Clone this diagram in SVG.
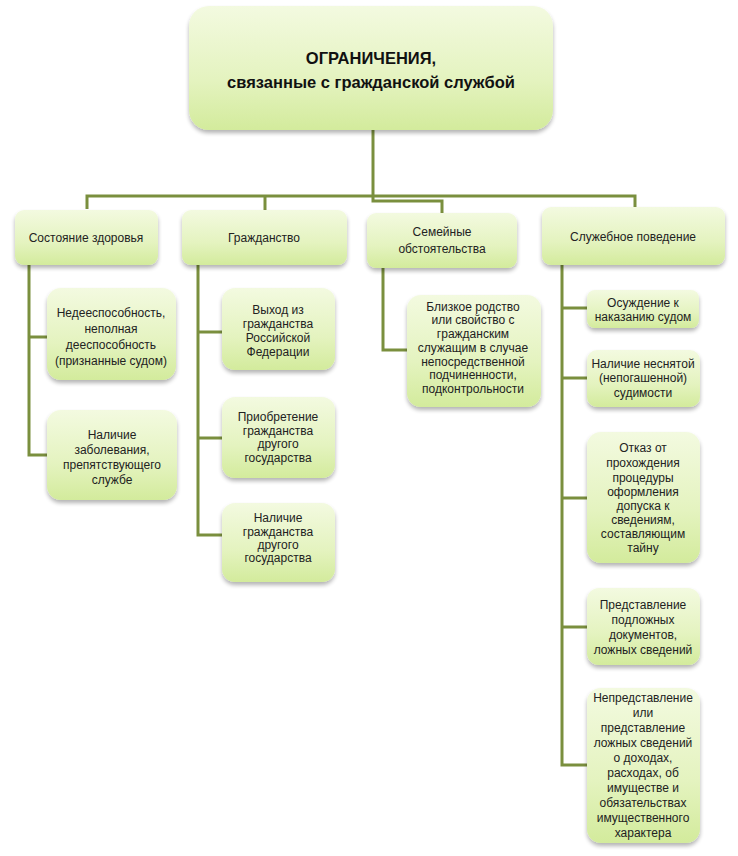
<svg xmlns="http://www.w3.org/2000/svg" width="738" height="856" viewBox="0 0 738 856">
<defs>
<linearGradient id="g" x1="0" y1="0" x2="0" y2="1">
<stop offset="0" stop-color="#f3fae0"/>
<stop offset="0.6" stop-color="#e4f3bf"/>
<stop offset="1" stop-color="#d3eb9c"/>
</linearGradient>
<filter id="sh" x="-10%" y="-10%" width="120%" height="130%">
<feGaussianBlur in="SourceAlpha" stdDeviation="2"/>
<feOffset dx="0" dy="3" result="b"/>
<feComponentTransfer><feFuncA type="linear" slope="0.3"/></feComponentTransfer>
<feMerge><feMergeNode/><feMergeNode in="SourceGraphic"/></feMerge>
</filter>
</defs>
<style>
.box{fill:url(#g);filter:url(#sh);}
.t{font-family:"Liberation Sans",Arial,sans-serif;font-size:12px;fill:#222;text-anchor:middle;}
.h{font-family:"Liberation Sans",Arial,sans-serif;font-size:16.5px;font-weight:bold;fill:#111;text-anchor:middle;}
.c{fill:none;stroke:#7a8f3e;stroke-width:3;}
</style>
<rect width="738" height="856" fill="#fff"/>
<g id="connectors">
<path class="c" d="M373 130 V196"/>
<path class="c" d="M87 209 V196 H635 V207"/>
<path class="c" d="M265 196 V210"/>
<path class="c" d="M373 196 V201 H442 V213"/>
<path class="c" d="M29 265 V455 H48 M29 337 H48"/>
<path class="c" d="M198 265 V535 H223 M198 332 H223 M198 438 H223"/>
<path class="c" d="M383 268 V350 H407"/>
<path class="c" d="M562 265 V765 H587 M562 308 H587 M562 378 H587 M562 498 H587 M562 627 H587"/>
</g>
<g id="root">
<rect class="box" x="189" y="6" width="364" height="124" rx="20"/>
<text class="h" x="371" y="64">ОГРАНИЧЕНИЯ,</text>
<text class="h" x="371" y="88">связанные с гражданской службой</text>
</g>
<g id="health">
<rect class="box" x="15" y="210" width="143" height="55" rx="9"/>
<text class="t" x="86" y="242">Состояние здоровья</text>
</g>
<g id="citizenship">
<rect class="box" x="182" y="210" width="165" height="55" rx="9"/>
<text class="t" x="264" y="242">Гражданство</text>
</g>
<g id="family">
<rect class="box" x="367" y="213" width="150" height="55" rx="9"/>
<text class="t" x="442" y="236">Семейные</text>
<text class="t" x="442" y="253">обстоятельства</text>
</g>
<g id="conduct">
<rect class="box" x="542" y="207" width="183" height="58" rx="9"/>
<text class="t" x="633" y="241">Служебное поведение</text>
</g>
<g id="h1">
<rect class="box" x="47" y="288" width="129" height="92" rx="14"/>
<text class="t" x="111" y="317">Недееспособность,</text>
<text class="t" x="111" y="333">неполная</text>
<text class="t" x="111" y="349">дееспособность</text>
<text class="t" x="111" y="365">(признанные судом)</text>
</g>
<g id="h2">
<rect class="box" x="47" y="410" width="130" height="90" rx="14"/>
<text class="t" x="112" y="439">Наличие</text>
<text class="t" x="112" y="454">заболевания,</text>
<text class="t" x="112" y="469">препятствующего</text>
<text class="t" x="112" y="484">службе</text>
</g>
<g id="c1">
<rect class="box" x="222" y="288" width="113" height="82" rx="13"/>
<text class="t" x="278" y="314">Выход из</text>
<text class="t" x="278" y="328">гражданства</text>
<text class="t" x="278" y="342">Российской</text>
<text class="t" x="278" y="356">Федерации</text>
</g>
<g id="c2">
<rect class="box" x="222" y="397" width="113" height="81" rx="13"/>
<text class="t" x="278" y="421">Приобретение</text>
<text class="t" x="278" y="435">гражданства</text>
<text class="t" x="278" y="448">другого</text>
<text class="t" x="278" y="462">государства</text>
</g>
<g id="c3">
<rect class="box" x="222" y="503" width="113" height="79" rx="13"/>
<text class="t" x="278" y="522">Наличие</text>
<text class="t" x="278" y="536">гражданства</text>
<text class="t" x="278" y="549">другого</text>
<text class="t" x="278" y="562">государства</text>
</g>
<g id="f1">
<rect class="box" x="407" y="295" width="134" height="112" rx="14"/>
<text class="t" x="473" y="311">Близкое родство</text>
<text class="t" x="473" y="324">или свойство с</text>
<text class="t" x="473" y="338">гражданским</text>
<text class="t" x="473" y="352">служащим в случае</text>
<text class="t" x="473" y="366">непосредственной</text>
<text class="t" x="473" y="379">подчиненности,</text>
<text class="t" x="473" y="393">подконтрольности</text>
</g>
<g id="s1">
<rect class="box" x="587" y="290" width="112" height="38" rx="8"/>
<text class="t" x="643" y="307">Осуждение к</text>
<text class="t" x="643" y="321">наказанию судом</text>
</g>
<g id="s2">
<rect class="box" x="587" y="350" width="113" height="57" rx="10"/>
<text class="t" x="643" y="368">Наличие неснятой</text>
<text class="t" x="643" y="382">(непогашенной)</text>
<text class="t" x="643" y="397">судимости</text>
</g>
<g id="s3">
<rect class="box" x="587" y="432" width="113" height="131" rx="14"/>
<text class="t" x="643" y="452">Отказ от</text>
<text class="t" x="643" y="467">прохождения</text>
<text class="t" x="643" y="482">процедуры</text>
<text class="t" x="643" y="496">оформления</text>
<text class="t" x="643" y="510">допуска к</text>
<text class="t" x="643" y="524">сведениям,</text>
<text class="t" x="643" y="538">составляющим</text>
<text class="t" x="643" y="552">тайну</text>
</g>
<g id="s4">
<rect class="box" x="587" y="588" width="113" height="77" rx="12"/>
<text class="t" x="643" y="609">Представление</text>
<text class="t" x="643" y="624">подложных</text>
<text class="t" x="643" y="639">документов,</text>
<text class="t" x="643" y="654">ложных сведений</text>
</g>
<g id="s5">
<rect class="box" x="587" y="688" width="113" height="155" rx="14"/>
<text class="t" x="643" y="702">Непредставление</text>
<text class="t" x="643" y="717">или</text>
<text class="t" x="643" y="732">представление</text>
<text class="t" x="643" y="747">ложных сведений</text>
<text class="t" x="643" y="762">о доходах,</text>
<text class="t" x="643" y="777">расходах, об</text>
<text class="t" x="643" y="792">имуществе и</text>
<text class="t" x="643" y="807">обязательствах</text>
<text class="t" x="643" y="822">имущественного</text>
<text class="t" x="643" y="837">характера</text>
</g>
</svg>
